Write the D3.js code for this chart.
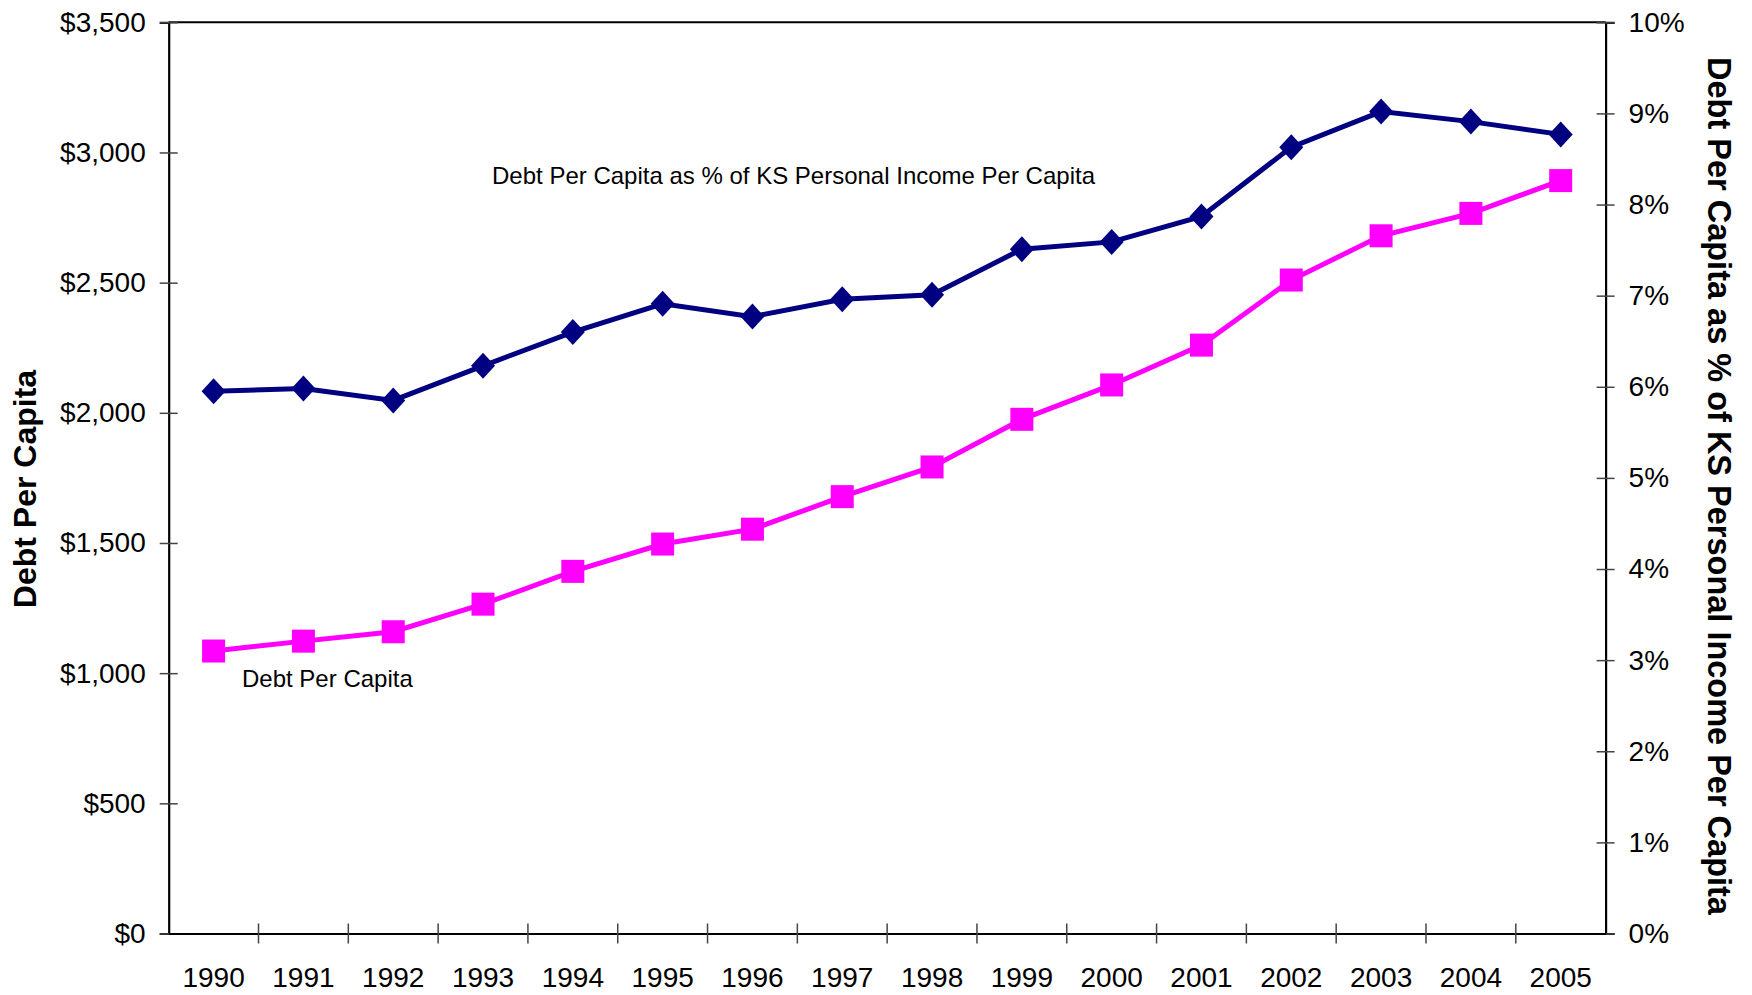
<!DOCTYPE html>
<html>
<head>
<meta charset="utf-8">
<script src="https://cdn.jsdelivr.net/npm/d3@7"></script>
<style>
  body { margin: 0; background: #fff; }
  svg text { font-family: "Liberation Sans", Arial, sans-serif; fill: #000; }
</style>
</head>
<body>
<div id="chart"></div>
<script>
const years = ["1990", "1991", "1992", "1993", "1994", "1995", "1996", "1997",
  "1998", "1999", "2000", "2001", "2002", "2003", "2004", "2005"];
const debtPerCapita = [1085, 1123, 1159, 1265, 1391, 1496, 1553, 1678,
  1792, 1975, 2107, 2260, 2510, 2680, 2766, 2892];
const pctOfIncome = [5.95, 5.98, 5.85, 6.23, 6.60, 6.91, 6.77, 6.96,
  7.01, 7.51, 7.59, 7.87, 8.63, 9.02, 8.91, 8.77];
const leftTicks = [0, 500, 1000, 1500, 2000, 2500, 3000, 3500];
const rightTicks = [0, 1, 2, 3, 4, 5, 6, 7, 8, 9, 10];

const width = 1752;
const height = 995;
const margin = { top: 22.3, right: 146.4, bottom: 61.5, left: 168.7 };
const plotW = width - margin.left - margin.right;
const plotH = height - margin.top - margin.bottom;

const svg = d3.select("#chart")
  .append("svg")
  .attr("width", width)
  .attr("height", height);

const g = svg.append("g")
  .attr("transform", `translate(${margin.left},${margin.top})`);

const x = d3.scaleBand().domain(years).range([0, plotW]).padding(0);
const yLeft = d3.scaleLinear().domain([0, 3500]).range([plotH, 0]);
const yRight = d3.scaleLinear().domain([0, 10]).range([plotH, 0]);

// frame top line
g.append("line")
  .attr("x1", 0).attr("x2", plotW)
  .attr("y1", 0).attr("y2", 0)
  .attr("stroke", "#000").attr("stroke-width", 2);

// left axis
const leftAxis = g.append("g")
  .call(d3.axisLeft(yLeft)
    .tickValues(leftTicks)
    .tickFormat((d) => "$" + d3.format(",")(d))
    .tickSize(9)
    .tickPadding(14));
leftAxis.selectAll(".tick line").attr("x1", 9).attr("stroke", "#444").attr("stroke-width", 1.5);
leftAxis.select(".domain").attr("stroke", "#000").attr("stroke-width", 2.2);
leftAxis.selectAll("text").attr("font-size", "28px");

// right axis
const rightAxis = g.append("g")
  .attr("transform", `translate(${plotW},0)`)
  .call(d3.axisRight(yRight)
    .tickValues(rightTicks)
    .tickFormat((d) => d + "%")
    .tickSize(9)
    .tickPadding(14));
rightAxis.selectAll(".tick line").attr("x1", -9).attr("stroke", "#444").attr("stroke-width", 1.5);
rightAxis.select(".domain").attr("stroke", "#000").attr("stroke-width", 2.2);
rightAxis.selectAll("text").attr("font-size", "28px");

// bottom axis: labels at band centres, tick marks at band edges
const bottomAxis = g.append("g")
  .attr("transform", `translate(0,${plotH})`)
  .call(d3.axisBottom(x).tickSize(0).tickPadding(34));
bottomAxis.select(".domain").attr("stroke", "#000").attr("stroke-width", 2.2);
bottomAxis.selectAll("text").attr("font-size", "28px");

bottomAxis.selectAll(".edge")
  .data(years.slice(1))
  .enter()
  .append("line")
  .attr("class", "edge")
  .attr("x1", (d) => x(d))
  .attr("x2", (d) => x(d))
  .attr("y1", -10)
  .attr("y2", 10)
  .attr("stroke", "#444")
  .attr("stroke-width", 1.5);

const cx = (d) => x(d) + x.bandwidth() / 2;

// debt per capita line (left axis)
const pinkLine = d3.line()
  .x((d, i) => cx(years[i]))
  .y((d) => yLeft(d));

g.append("path")
  .datum(debtPerCapita)
  .attr("fill", "none")
  .attr("stroke", "#ff00ff")
  .attr("stroke-width", 5)
  .attr("d", pinkLine);

g.selectAll(".sq")
  .data(debtPerCapita)
  .enter()
  .append("rect")
  .attr("class", "sq")
  .attr("x", (d, i) => cx(years[i]) - 11.5)
  .attr("y", (d) => yLeft(d) - 11.5)
  .attr("width", 23)
  .attr("height", 23)
  .attr("fill", "#ff00ff");

// percent of income line (right axis)
const navyLine = d3.line()
  .x((d, i) => cx(years[i]))
  .y((d) => yRight(d));

g.append("path")
  .datum(pctOfIncome)
  .attr("fill", "none")
  .attr("stroke", "#000080")
  .attr("stroke-width", 5)
  .attr("d", navyLine);

g.selectAll(".dm")
  .data(pctOfIncome)
  .enter()
  .append("path")
  .attr("class", "dm")
  .attr("transform", (d, i) => `translate(${cx(years[i])},${yRight(d)})`)
  .attr("d", "M0,-13L12,0L0,13L-12,0Z")
  .attr("fill", "#000080");

// series labels
svg.append("text")
  .attr("x", 793.5)
  .attr("y", 184)
  .attr("text-anchor", "middle")
  .attr("font-size", "24px")
  .text("Debt Per Capita as % of KS Personal Income Per Capita");

svg.append("text")
  .attr("x", 242)
  .attr("y", 687)
  .attr("text-anchor", "start")
  .attr("font-size", "24px")
  .text("Debt Per Capita");

// axis titles
svg.append("text")
  .attr("transform", "translate(36,489) rotate(-90)")
  .attr("text-anchor", "middle")
  .attr("font-size", "32px")
  .attr("font-weight", "bold")
  .text("Debt Per Capita");

svg.append("text")
  .attr("transform", "translate(1708,486) rotate(90)")
  .attr("text-anchor", "middle")
  .attr("font-size", "32.5px")
  .attr("font-weight", "bold")
  .text("Debt Per Capita as % of KS Personal Income Per Capita");
</script>
</body>
</html>
